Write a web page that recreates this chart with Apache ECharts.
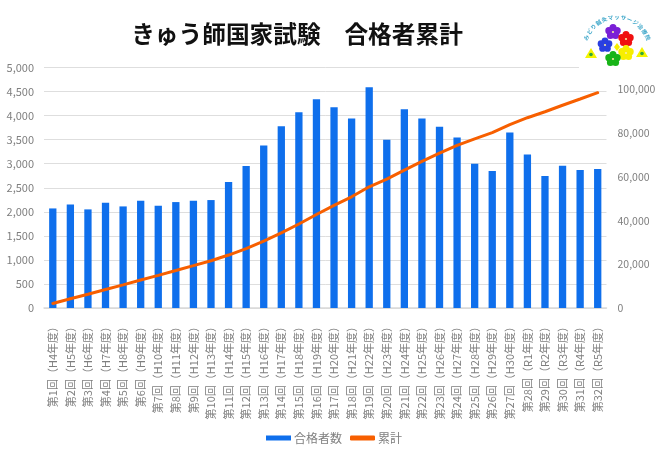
<!DOCTYPE html>
<html>
<head>
<meta charset="utf-8">
<script src="https://cdn.jsdelivr.net/npm/echarts@6/dist/echarts.min.js"></script>
<style>
html, body { margin: 0; padding: 0; background: #fff; }
#chart { width: 662px; height: 455px; }
</style>
</head>
<body>
<div id="chart"></div>
<script>
const categories = [
    '第1回（H4年度）', '第2回（H5年度）', '第3回（H6年度）', '第4回（H7年度）',
    '第5回（H8年度）', '第6回（H9年度）', '第7回（H10年度）', '第8回（H11年度）',
    '第9回（H12年度）', '第10回（H13年度）', '第11回（H14年度）', '第12回（H15年度）',
    '第13回（H16年度）', '第14回（H17年度）', '第15回（H18年度）', '第16回（H19年度）',
    '第17回（H20年度）', '第18回（H21年度）', '第19回（H22年度）', '第20回（H23年度）',
    '第21回（H24年度）', '第22回（H25年度）', '第23回（H26年度）', '第24回（H27年度）',
    '第25回（H28年度）', '第26回（H29年度）', '第27回（H30年度）', '第28回（R1年度）',
    '第29回（R2年度）', '第30回（R3年度）', '第31回（R4年度）', '第32回（R5年度）'
];
const passed = [
    2070, 2154, 2050, 2188, 2112, 2230, 2126, 2202,
    2230, 2244, 2618, 2950, 3380, 3781, 4072, 4342,
    4176, 3940, 4591, 3497, 4134, 3940, 3767, 3546,
    2999, 2846, 3650, 3192, 2742, 2957, 2867, 2888
];
const cumulative = [
    2070, 4224, 6274, 8462, 10574, 12804, 14930, 17132,
    19362, 21606, 24224, 27174, 30554, 34335, 38407, 42749,
    46925, 50865, 55456, 58953, 63087, 67027, 70794, 74340,
    77339, 80185, 83835, 87027, 89769, 92726, 95593, 98481
];

const FONT = '"Noto Sans CJK JP", "Noto Sans", sans-serif';
const GREY = '#7f7f7f';

function flower(cx, cy, r, color) {
    let parts = [];
    [0, 72, 144, 216, 288].forEach(function (deg) {
        let a = (deg - 90) * Math.PI / 180;
        parts.push({
            type: 'circle',
            z: 101,
            shape: {cx: cx + Math.cos(a) * r, cy: cy + Math.sin(a) * r, r: r * 0.8},
            style: {fill: color}
        });
    });
    parts.push({type: 'circle', z: 101, shape: {cx: cx, cy: cy, r: r * 0.9}, style: {fill: color}});
    parts.push({type: 'circle', z: 102, shape: {cx: cx, cy: cy, r: 1.1}, style: {fill: '#f6e9a0'}});
    return parts;
}

function triangle(cx, cy) {
    return [
        {type: 'polygon', z: 101, shape: {points: [[cx, cy - 5], [cx + 6, cy + 5], [cx - 6, cy + 5]]}, style: {fill: '#f4f400'}},
        {type: 'circle', z: 102, shape: {cx: cx, cy: cy + 1.5, r: 1.8}, style: {fill: '#2fa83a'}}
    ];
}

function arcText(text, cx, cy, r, from, to) {
    let chars = text.split('');
    return chars.map(function (c, i) {
        let deg = from + (to - from) * i / (chars.length - 1);
        let a = (deg - 90) * Math.PI / 180;
        return {
            type: 'text',
            z: 102,
            x: cx + Math.cos(a) * r,
            y: cy + Math.sin(a) * r,
            rotation: -deg * Math.PI / 180,
            style: {text: c, font: 'bold 5.5px ' + FONT, fill: '#3aa5c8', align: 'center', verticalAlign: 'middle'}
        };
    });
}

let logo = [{type: 'rect', z: 100, shape: {x: 579, y: 8, width: 80, height: 62}, style: {fill: '#fff'}}]
    .concat(flower(613, 32, 4.4, '#7a1fd6'))
    .concat(flower(626, 39, 4.4, '#f01010'))
    .concat(flower(605, 45, 4.2, '#2a3fe0'))
    .concat(flower(626, 53, 4.4, '#f7ee00'))
    .concat(flower(613, 59, 4.4, '#18b418'))
    .concat([{type: 'polygon', z: 101, shape: {points: [[617, 43], [620, 47], [617, 51], [614, 47]]}, style: {fill: '#f7ee00'}}])
    .concat(triangle(591, 53))
    .concat(triangle(642, 52))
    .concat(arcText('みどり鍼灸マッサージ治療院', 617, 50, 33, -68, 68));

let chart = echarts.init(document.getElementById('chart'));
chart.setOption({
    animation: false,
    backgroundColor: '#fff',
    textStyle: {fontFamily: FONT},
    title: {
        text: 'きゅう師国家試験　合格者累計',
        left: 292,
        top: 17,
        textAlign: 'center',
        textStyle: {fontFamily: FONT, fontSize: 23.7, fontWeight: 'bold', color: '#111'}
    },
    legend: {
        left: 261,
        top: 427,
        itemWidth: 25,
        itemHeight: 5,
        itemGap: 8,
        data: [
            {name: '合格者数', icon: 'rect'},
            {name: '累計', icon: 'roundRect'}
        ],
        textStyle: {fontFamily: FONT, fontSize: 12, color: GREY, padding: [0, 0, 0, -2]}
    },
    grid: {left: 44, right: 55.5, top: 67.5, bottom: 147, containLabel: false},
    xAxis: {
        type: 'category',
        data: categories,
        axisTick: {show: false},
        axisLine: {lineStyle: {color: '#d9d9d9', width: 1.5}},
        axisLabel: {interval: 0, rotate: 90, margin: 13, fontSize: 11, color: GREY, fontFamily: FONT}
    },
    yAxis: [
        {
            type: 'value',
            min: 0,
            max: 5000,
            interval: 500,
            axisLine: {show: false},
            axisTick: {show: false},
            splitLine: {lineStyle: {color: '#dedede', width: 1}},
            axisLabel: {
                margin: 10,
                fontSize: 11,
                color: GREY,
                fontFamily: FONT,
                formatter: function (v) { return v.toLocaleString('en-US'); }
            }
        },
        {
            type: 'value',
            min: 0,
            max: 110000,
            interval: 20000,
            axisLine: {show: false},
            axisTick: {show: false},
            splitLine: {show: false},
            axisLabel: {
                margin: 11,
                fontSize: 10.5,
                color: GREY,
                fontFamily: FONT,
                showMaxLabel: false,
                formatter: function (v) { return v.toLocaleString('en-US'); }
            }
        }
    ],
    series: [
        {
            name: '合格者数',
            type: 'bar',
            data: passed,
            barWidth: 7.3,
            itemStyle: {color: '#0f6fec'}
        },
        {
            name: '累計',
            type: 'line',
            yAxisIndex: 1,
            data: cumulative,
            showSymbol: false,
            symbol: 'none',
            lineStyle: {color: '#f75f00', width: 3, cap: 'round'},
            itemStyle: {color: '#f75f00'}
        }
    ],
    graphic: logo
});
</script>
</body>
</html>
